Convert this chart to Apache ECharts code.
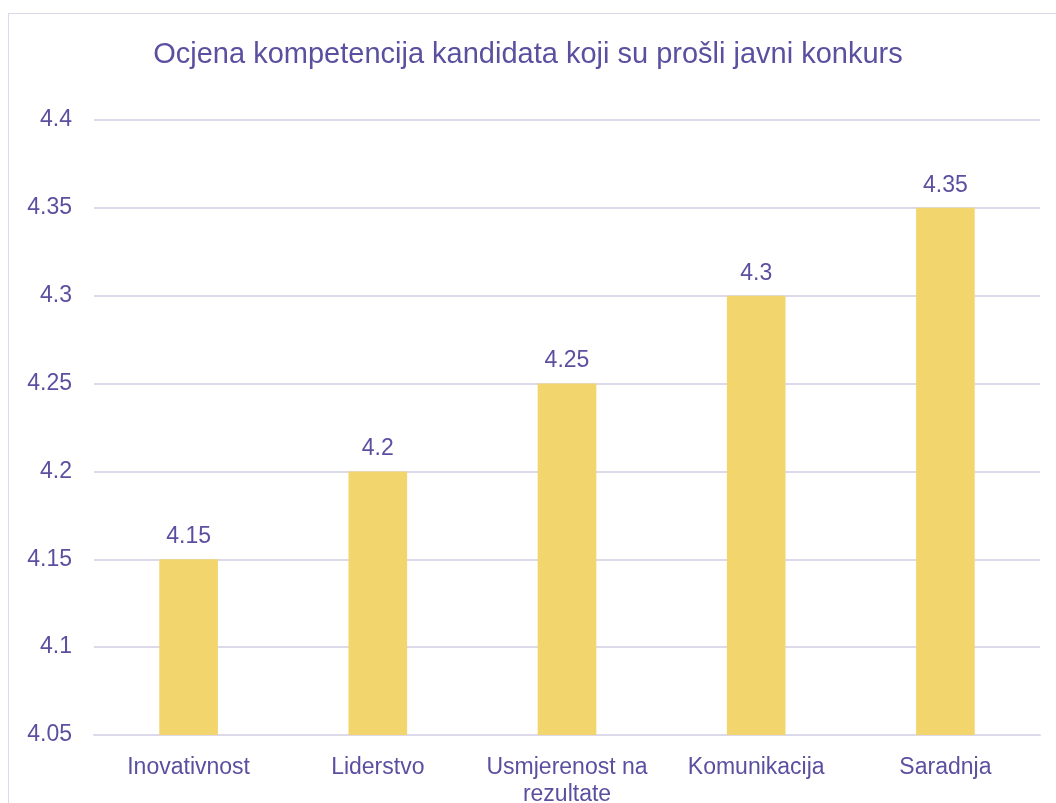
<!DOCTYPE html>
<html>
<head>
<meta charset="utf-8">
<script src="https://cdn.jsdelivr.net/npm/echarts@6/dist/echarts.min.js"></script>
<style>
  html, body { margin: 0; padding: 0; overflow: hidden; background: #fff; }
  #main { width: 1056px; height: 803px; }
  /* okvir grafikona, desna i donja ivica su izvan prozora */
  .frame { position: absolute; left: 8px; top: 13px; width: 1100px; height: 850px;
           border: 1px solid #dcd9ea; pointer-events: none; }
</style>
</head>
<body>
<div id="main"></div>
<div class="frame"></div>
<script>
const titleText = 'Ocjena kompetencija kandidata koji su prošli javni konkurs';
const categories = ['Inovativnost', 'Liderstvo', 'Usmjerenost na\nrezultate', 'Komunikacija', 'Saradnja'];
const scores = [4.15, 4.2, 4.25, 4.3, 4.35];
const yMin = 4.05;
const yMax = 4.4;
const yStep = 0.05;

const textColor = '#5b50a0';
const gridColor = '#dcd9ea';
const fontFamily = 'Liberation Sans, Arial, sans-serif';

const chart = echarts.init(document.getElementById('main'));
chart.setOption({
    animation: false,
    title: {
        text: titleText,
        left: 'center',
        top: 35,
        textStyle: { color: textColor, fontSize: 29, fontWeight: 'normal', fontFamily }
    },
    grid: { left: 94, right: 16, top: 120, bottom: 68, containLabel: false, outerBoundsMode: 'none' },
    xAxis: {
        type: 'category',
        data: categories,
        axisLine: { lineStyle: { color: gridColor, width: 2 } },
        axisTick: { show: false },
        axisLabel: { color: textColor, fontSize: 23, fontFamily, margin: 19, lineHeight: 27, interval: 0 }
    },
    yAxis: {
        type: 'value',
        min: yMin,
        max: yMax,
        interval: yStep,
        axisLine: { show: false },
        axisTick: { show: false },
        splitLine: { lineStyle: { color: gridColor, width: 2 } },
        axisLabel: {
            color: textColor, fontSize: 23, fontFamily, margin: 22,
            formatter: v => String(Math.round(v * 100) / 100)
        }
    },
    series: [{
        type: 'bar',
        data: scores,
        barWidth: '31%',
        itemStyle: { color: '#f3d56e' },
        label: {
            show: true,
            position: 'top',
            distance: 11,
            color: textColor,
            fontSize: 23,
            fontFamily,
            formatter: p => String(p.value)
        }
    }]
});
</script>
</body>
</html>
